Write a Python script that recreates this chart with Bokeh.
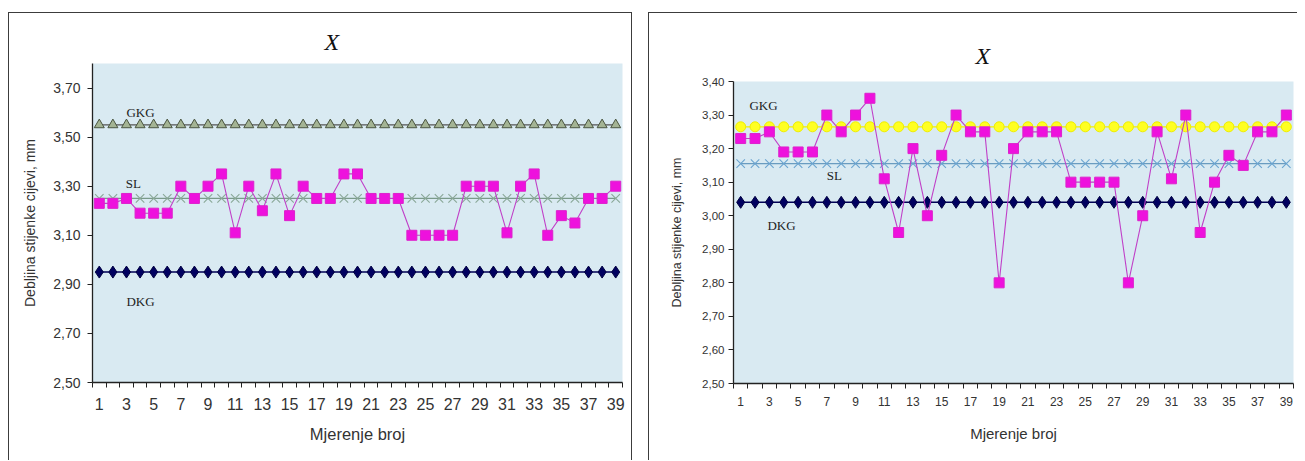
from bokeh.plotting import figure
from bokeh.models import FixedTicker, CustomJSTickFormatter, Label, ColumnDataSource
from bokeh.embed import file_html
from bokeh.resources import INLINE

# ---------------- data ----------------
measurement_no = list(range(1, 40))
xtick_labels = list(range(1, 40, 2))
category_edges = [i + 0.5 for i in range(0, 40)]

left_values = [3.23, 3.23, 3.25, 3.19, 3.19, 3.19, 3.30, 3.25, 3.30, 3.35,
               3.11, 3.30, 3.20, 3.35, 3.18, 3.30, 3.25, 3.25, 3.35, 3.35,
               3.25, 3.25, 3.25, 3.10, 3.10, 3.10, 3.10, 3.30, 3.30, 3.30,
               3.11, 3.30, 3.35, 3.10, 3.18, 3.15, 3.25, 3.25, 3.30]
left_gkg = 3.55
left_sl = 3.25
left_dkg = 2.95
left_yticks = [2.50, 2.70, 2.90, 3.10, 3.30, 3.50, 3.70]

right_values = [3.23, 3.23, 3.25, 3.19, 3.19, 3.19, 3.30, 3.25, 3.30, 3.35,
                3.11, 2.95, 3.20, 3.00, 3.18, 3.30, 3.25, 3.25, 2.80, 3.20,
                3.25, 3.25, 3.25, 3.10, 3.10, 3.10, 3.10, 2.80, 3.00, 3.25,
                3.11, 3.30, 2.95, 3.10, 3.18, 3.15, 3.25, 3.25, 3.30]
right_gkg = 3.265
right_sl = 3.155
right_dkg = 3.04
right_yticks = [2.50, 2.60, 2.70, 2.80, 2.90, 3.00, 3.10, 3.20, 3.30, 3.40]

title_text = "X"
y_label = "Debljina stijenke cijevi, mm"
x_label = "Mjerenje broj"
limit_names = ["GKG", "SL", "DKG"]

SANS = "Liberation Sans"
SERIF = "Liberation Serif"
BG = "#d9eaf2"

fmt = CustomJSTickFormatter(code="return tick.toFixed(2).replace('.', ',');")


def make_chart(width, height, pos, borders, yrange, yticks, values, gkg, sl, dkg,
               gkg_style, sl_style, label_pos, sizes, title_offset, title_standoff,
               ylab_standoff, ytick_standoff, xtick_standoff, xlab_standoff, extra_styles):
    p = figure(width=width, height=height, output_backend="svg", toolbar_location=None,
               x_range=(0.5, 39.5), y_range=yrange,
               min_border_left=borders[0], min_border_right=borders[1],
               min_border_top=borders[2], min_border_bottom=borders[3])
    p.background_fill_color = BG
    p.border_fill_color = "white"
    p.outline_line_color = None
    p.xgrid.grid_line_color = None
    p.ygrid.grid_line_color = None
    styles = {"border": "1px solid #3c3c3c", "position": "absolute",
              "left": f"{pos[0]}px", "top": f"{pos[1]}px"}
    styles.update(extra_styles)
    p.styles = styles

    # title
    p.title.text = title_text
    p.title.text_font = SERIF
    p.title.text_font_style = "italic"
    p.title.text_font_size = sizes["title"]
    p.title.text_color = "#111111"
    p.title.align = "left"
    p.title.offset = title_offset
    p.title.standoff = title_standoff

    # axes
    xa = p.xaxis[0]
    xa.ticker = FixedTicker(ticks=xtick_labels, minor_ticks=category_edges)
    xa.major_tick_in = 0
    xa.major_tick_out = 0
    xa.minor_tick_in = 0
    xa.minor_tick_out = 5
    xa.minor_tick_line_color = "#222222"
    xa.axis_line_color = "#222222"
    xa.axis_line_width = 1.3
    xa.major_label_text_font = SANS
    xa.major_label_text_font_size = sizes["xtick"]
    xa.major_label_text_color = "#333333"
    xa.major_label_standoff = xtick_standoff
    xa.axis_label = x_label
    xa.axis_label_text_font = SANS
    xa.axis_label_text_font_style = "normal"
    xa.axis_label_text_font_size = sizes["xlab"]
    xa.axis_label_text_color = "#333333"
    xa.axis_label_standoff = xlab_standoff

    ya = p.yaxis[0]
    ya.ticker = FixedTicker(ticks=yticks, minor_ticks=[])
    ya.formatter = fmt
    ya.major_tick_in = 0
    ya.major_tick_out = 5
    ya.major_tick_line_color = "#222222"
    ya.minor_tick_line_color = None
    ya.axis_line_color = "#222222"
    ya.axis_line_width = 1.3
    ya.major_label_text_font = SANS
    ya.major_label_text_font_size = sizes["ytick"]
    ya.major_label_text_color = "#333333"
    ya.major_label_standoff = ytick_standoff
    ya.axis_label = y_label
    ya.axis_label_text_font = SANS
    ya.axis_label_text_font_style = "normal"
    ya.axis_label_text_font_size = sizes["ylab"]
    ya.axis_label_text_color = "#333333"
    ya.axis_label_standoff = ylab_standoff

    n = len(measurement_no)
    src = ColumnDataSource(dict(x=measurement_no, v=values,
                                gkg=[gkg] * n, sl=[sl] * n, dkg=[dkg] * n))

    # GKG
    p.line("x", "gkg", source=src, line_color=gkg_style["line"], line_width=1.2)
    p.scatter("x", "gkg", source=src, marker=gkg_style["marker"], size=gkg_style["size"],
              fill_color=gkg_style["fill"], line_color=gkg_style["edge"], line_width=1)
    # SL
    p.line("x", "sl", source=src, line_color=sl_style["line"], line_width=1.2)
    p.scatter("x", "sl", source=src, marker="x", size=12,
              line_color=sl_style["edge"], line_width=1.1)
    # DKG
    p.line("x", "dkg", source=src, line_color="#000055", line_width=1.5)
    p.scatter("x", "dkg", source=src, marker="diamond", size=12,
              fill_color="#000060", line_color="#000040", line_width=1)
    # measurements
    p.line("x", "v", source=src, line_color="#c040c8", line_width=1.1)
    p.scatter("x", "v", source=src, marker="square", size=10,
              fill_color="#ee11dd", line_color="#dd22cc", line_width=1)

    for name, (lx, ly) in zip(limit_names, label_pos):
        p.add_layout(Label(x=lx, y=ly, text=name, text_font=SERIF,
                           text_font_size=sizes["lim"], text_color="#222222",
                           text_align="center", text_baseline="middle"))
    return p


p1 = make_chart(
    624, 448, (8, 12), (83, 11, 50, 79), (2.5, 3.8), left_yticks, left_values,
    left_gkg, left_sl, left_dkg,
    dict(line="#555555", marker="triangle", size=10, fill="#a4b494", edge="#4a5540"),
    dict(line="#7a9a8a", edge="#8aa898"),
    [(4.03, 3.602), (3.5, 3.309), (4.03, 2.829)],
    dict(title="24px", xtick="16px", ytick="14px", xlab="16.5px", ylab="14px", lim="13px"),
    232, 17, 12, 7, 10, 12, {"border-bottom": "none"})

p2 = make_chart(
    649, 448, (648, 12), (84, 5, 68, 78), (2.5, 3.4), right_yticks, right_values,
    right_gkg, right_sl, right_dkg,
    dict(line="#f0f000", marker="circle", size=10, fill="#ffff22", edge="#eeee00"),
    dict(line="#6a9cc0", edge="#6aa4d0"),
    [(2.59, 3.328), (7.53, 3.12), (3.84, 2.971)],
    dict(title="24px", xtick="12px", ytick="11.5px", xlab="15px", ylab="12.5px", lim="13px"),
    242, 26, 15, 4, 8, 16, {"border-bottom": "none", "border-right": "none"})

open("out.html", "w").write(file_html([p1, p2], INLINE))
